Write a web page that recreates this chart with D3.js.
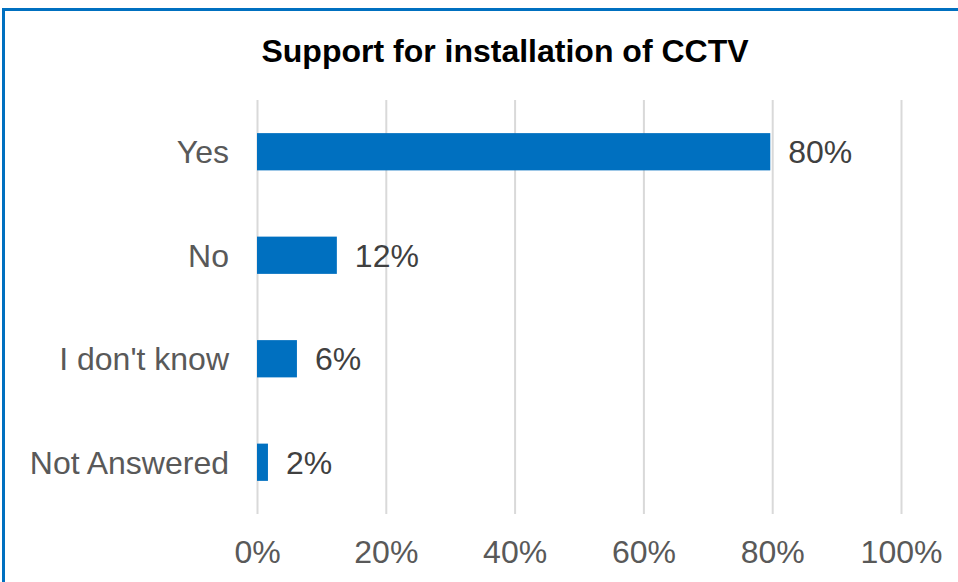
<!DOCTYPE html>
<html><head><meta charset="utf-8">
<script src="https://cdn.jsdelivr.net/npm/d3@7"></script>
<style>html,body{margin:0;padding:0;background:#fff;}svg{display:block;}</style>
</head><body>
<script>
const categories = ["Yes", "No", "I don't know", "Not Answered"];
const values = [79.7, 12.4, 6.2, 1.7];
const ticks = [0, 20, 40, 60, 80, 100];
const title = "Support for installation of CCTV";

const W = 958, H = 582;
const svg = d3.select("body").append("svg").attr("width", W).attr("height", H);
svg.append("rect").attr("x", 0).attr("y", 0).attr("width", W).attr("height", H).attr("fill", "#fff");
svg.append("rect").attr("x", 3.5).attr("y", 9.5).attr("width", W + 20).attr("height", H + 20)
  .attr("fill", "none").attr("stroke", "#0070C0").attr("stroke-width", 3);

const x = d3.scaleLinear().domain([0, 100]).range([257, 901]);
const y = d3.scaleBand().domain(categories).range([100, 514]).paddingInner(0.64).paddingOuter(0.32);

const font = "'Liberation Sans', Arial, sans-serif";
svg.append("text").attr("x", 505).attr("y", 62).attr("text-anchor", "middle")
  .attr("font-family", font).attr("font-weight", "bold").attr("font-size", 32).attr("fill", "#000").text(title);

const gx = svg.append("g")
  .call(d3.axisBottom(x).tickValues(ticks).tickSize(414).tickFormat(d => d + "%"));
gx.attr("transform", "translate(0,100)");
gx.select(".domain").remove();
gx.selectAll(".tick line").attr("stroke", "#d9d9d9").attr("stroke-width", 2);
gx.selectAll(".tick text").attr("font-family", font).attr("font-size", 32).attr("fill", "#595959")
  .attr("y", 463).attr("dy", "0");

svg.append("g").selectAll("rect").data(values).join("rect")
  .attr("x", x(0)).attr("y", (d, i) => y(categories[i]))
  .attr("width", d => x(d) - x(0)).attr("height", y.bandwidth()).attr("fill", "#0070C0");

svg.append("g").selectAll("text").data(values).join("text")
  .attr("x", d => x(d) + 18).attr("y", (d, i) => y(categories[i]) + y.bandwidth() / 2)
  .attr("dy", "0.36em").attr("font-family", font).attr("font-size", 32).attr("fill", "#404040")
  .text(d => Math.round(d) + "%");

const gy = svg.append("g").attr("transform", "translate(257,0)")
  .call(d3.axisLeft(y).tickSize(0).tickPadding(28));
gy.select(".domain").remove();
gy.selectAll(".tick text").attr("font-family", font).attr("font-size", 32).attr("fill", "#595959")
  .attr("dy", "0.36em");
</script>
</body></html>
